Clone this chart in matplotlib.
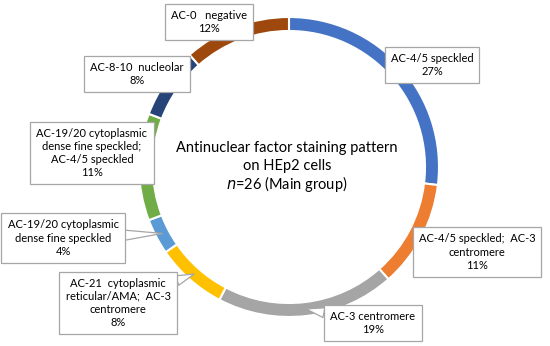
import numpy as np
import matplotlib
matplotlib.use('Agg')
import matplotlib.pyplot as plt

plt.rcParams['font.family'] = ['Lato', 'DejaVu Sans']

# slices, clockwise from 12 o'clock (n = 26)
patterns = ['AC-4/5 speckled',
            'AC-4/5 speckled;  AC-3\ncentromere',
            'AC-3 centromere',
            'AC-21  cytoplasmic\nreticular/AMA;  AC-3\ncentromere',
            'AC-19/20 cytoplasmic\ndense fine speckled',
            'AC-19/20 cytoplasmic\ndense fine speckled;\nAC-4/5 speckled',
            'AC-8-10  nucleolar',
            'AC-0   negative']
counts = [7, 3, 5, 2, 1, 3, 2, 3]
pct_labels = ['27%', '11%', '19%', '8%', '4%', '11%', '8%', '12%']
colors = ['#4472C4', '#ED7D31', '#A5A5A5', '#FFC000', '#5B9BD5', '#70AD47', '#264478', '#9E480E']

W, H = 550, 346
fig = plt.figure(figsize=(W / 100, H / 100), dpi=100)
ax = fig.add_axes([0, 0, 1, 1])

cx, cy, r = 289, H - 167, 150
wedges, _ = ax.pie(counts, colors=colors, startangle=90, counterclock=False,
                   center=(cx, cy), radius=r,
                   wedgeprops=dict(width=14, edgecolor='white', linewidth=1.5))
ax.set_xlim(0, W)
ax.set_ylim(0, H)
ax.set_aspect('equal')
ax.axis('off')

ax.text(cx - 2, cy + 19, 'Antinuclear factor staining pattern', ha='center', va='center', fontsize=10.5)
ax.text(cx - 2, cy + 1, 'on HEp2 cells', ha='center', va='center', fontsize=10.5)
ax.text(cx - 2, cy - 17, '$n$=26 (Main group)', ha='center', va='center', fontsize=10.5)

# label box centres in pixel coords (x, y from top)
box_pos = [(432, 65), (477, 252), (373, 323), (118, 303),
           (63, 238), (92, 153), (137, 74), (209, 22)]
callout = [False, False, True, True, True, False, False, False]

bbox = dict(boxstyle='square,pad=0.55', fc='white', ec='#A6A6A6', lw=0.9)
for w, name, pct, (bx, by), co in zip(wedges, patterns, pct_labels, box_pos, callout):
    txt = name + '\n' + pct
    if co:
        ang = np.deg2rad((w.theta1 + w.theta2) / 2)
        rm = r - 7
        pt = (cx + rm * np.cos(ang), cy + rm * np.sin(ang))
        ax.annotate(txt, xy=pt, xytext=(bx, H - by), ha='center', va='center',
                    fontsize=8, linespacing=1.25, bbox=bbox,
                    arrowprops=dict(arrowstyle='wedge,tail_width=0.9', fc='white',
                                    ec='#A6A6A6', lw=0.9, shrinkA=0, shrinkB=0))
    else:
        ax.text(bx, H - by, txt, ha='center', va='center', fontsize=8,
                linespacing=1.25, bbox=bbox)

fig.savefig('out.png', dpi=100)
